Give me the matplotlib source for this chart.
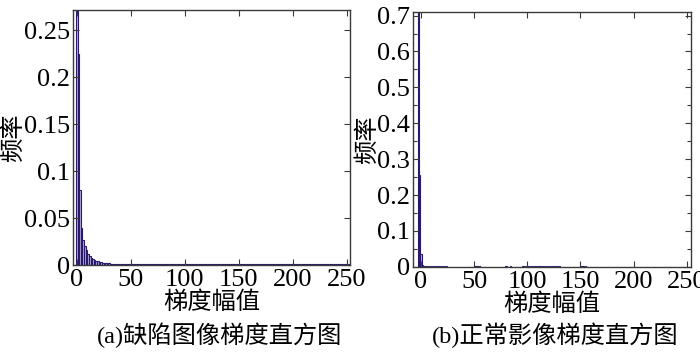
import numpy as np
import matplotlib
matplotlib.use("Agg")
import matplotlib.pyplot as plt
from matplotlib.ticker import MultipleLocator

plt.rcParams['font.family'] = ['Liberation Serif', 'Noto Sans CJK SC']

# ---------------- data ----------------
# (a) defect image gradient histogram: bins spaced 1.5 gradient units
left_bin_step = 1.5
left_head = [0.33, 0.225, 0.08, 0.04, 0.027, 0.02, 0.016, 0.012, 0.0095, 0.0078,
             0.0065, 0.0055, 0.0047, 0.004, 0.0035, 0.003, 0.0026, 0.0023, 0.002, 0.0018,
             0.0017, 0.0016, 0.0015, 0.0015, 0.0014, 0.0014, 0.0013, 0.0013]
left_tail = [0.0013, 0.0012, 0.0013, 0.0012, 0.0012, 0.0013, 0.0012, 0.0011, 0.0012, 0.0012,
             0.0011, 0.0012, 0.0011, 0.0011, 0.0012, 0.0011, 0.0011, 0.0012, 0.0011, 0.0011,
             0.0011, 0.0012, 0.0011, 0.001, 0.0011, 0.0011, 0.001, 0.0011, 0.0011, 0.001,
             0.0011, 0.001, 0.001, 0.0011, 0.001, 0.001, 0.0011, 0.001, 0.001, 0.001,
             0.0011, 0.001, 0.001, 0.001, 0.0011, 0.001, 0.001, 0.001, 0.001, 0.0011,
             0.001, 0.001, 0.001, 0.0011, 0.001, 0.001, 0.0010, 0.001, 0.0011, 0.001,
             0.001, 0.001, 0.001, 0.0011, 0.001, 0.001, 0.001, 0.001, 0.001, 0.0011,
             0.001, 0.001, 0.001, 0.001, 0.0011, 0.001, 0.001, 0.001, 0.001, 0.001,
             0.0011, 0.001, 0.001, 0.001, 0.001, 0.001, 0.0011, 0.001, 0.001, 0.001,
             0.001, 0.001, 0.0011, 0.001, 0.001, 0.001, 0.001, 0.001, 0.001, 0.0011,
             0.001, 0.001, 0.001, 0.001, 0.001, 0.001, 0.0011, 0.001, 0.001, 0.001,
             0.001, 0.001, 0.001, 0.001, 0.0011, 0.001, 0.001, 0.001, 0.001, 0.001,
             0.001, 0.0011, 0.001, 0.001, 0.001, 0.001, 0.001, 0.001, 0.001, 0.0011,
             0.001, 0.001, 0.001, 0.001, 0.001, 0.001, 0.001, 0.001, 0.0011, 0.001,
             0.001, 0.0012]
left_freq = left_head + left_tail

# (b) normal image gradient histogram: non-empty bins only
right_bins = [-2, -1, 0, 1, 2, 3, 4, 6, 8, 10, 12, 14, 16, 18, 20, 22, 24,
              50, 51, 52, 53, 55, 80, 84,
              96, 98, 100, 102, 104, 106, 108, 110, 112, 114, 116, 118, 120, 122, 124, 126, 128, 130,
              150, 151, 152, 153, 155]
right_freq = [0.76, 0.255, 0.035, 0.006, 0.003, 0.002, 0.0018, 0.0018, 0.0016, 0.0018, 0.0017, 0.0018,
              0.0016, 0.0018, 0.0017, 0.0016, 0.0015,
              0.003, 0.0025, 0.0028, 0.0022, 0.0016, 0.0016, 0.0016,
              0.0016, 0.0019, 0.0017, 0.002, 0.0018, 0.0019, 0.0017, 0.002, 0.0018, 0.0019,
              0.0017, 0.002, 0.0018, 0.0019, 0.0017, 0.0018, 0.0016, 0.0015,
              0.003, 0.0028, 0.0032, 0.0025, 0.0016]

x_ticks = [0, 50, 100, 150, 200, 250]
left_yticks = [0, 0.05, 0.1, 0.15, 0.2, 0.25]
left_ylabels = ['0', '0.05', '0.1', '0.15', '0.2', '0.25']
right_yticks = [0, 0.1, 0.2, 0.3, 0.4, 0.5, 0.6, 0.7]
right_ylabels = ['0', '0.1', '0.2', '0.3', '0.4', '0.5', '0.6', '0.7']

xlabel = '梯度幅值'
ylabel = '频率'
captions = ['(a)缺陷图像梯度直方图', '(b)正常影像梯度直方图']

# ---------------- drawing ----------------
fig = plt.figure(figsize=(7.0, 3.52), dpi=100)
ax1 = fig.add_axes([0.104, 0.247, 0.396, 0.725])
ax2 = fig.add_axes([0.590, 0.242, 0.397, 0.724])

bar_fill = '#b4aede'
bar_edge = '#2b1a6a'
spine_col = '#3a3a3a'
fs = 19
cfs = 17.5

left_x = np.arange(len(left_freq)) * left_bin_step
ax1.bar(left_x, left_freq, width=left_bin_step, color=bar_fill, edgecolor=bar_edge, linewidth=0.8)
ax2.bar(right_bins, right_freq, width=1.0, color=bar_fill, edgecolor=bar_edge, linewidth=0.8)

ax1.set_xlim(-3.7, 252.8)
ax1.set_ylim(0, 0.272)
ax1.set_yticks(left_yticks)
ax1.set_yticklabels(left_ylabels)

ax2.set_xlim(-7.5, 254)
ax2.set_ylim(0, 0.71)
ax2.set_yticks(right_yticks)
ax2.set_yticklabels(right_ylabels)
ax2.yaxis.set_minor_locator(MultipleLocator(0.05))

for ax, cap, cx in ((ax1, captions[0], 0.314), (ax2, captions[1], 0.793)):
    ax.set_xticks(x_ticks)
    ax.tick_params(axis='both', which='both', direction='in', top=True, right=True,
                   labelsize=fs, color=spine_col)
    ax.tick_params(axis='y', pad=2)
    ax.tick_params(axis='x', pad=3)
    ax.tick_params(which='major', length=4, width=0.8)
    ax.tick_params(which='minor', length=3, width=0.8)
    for s in ax.spines.values():
        s.set_color(spine_col)
        s.set_linewidth(1.0)
    ax.set_xlabel(xlabel, fontsize=cfs, labelpad=0)
    ax.set_ylabel(ylabel, fontsize=cfs, labelpad=-1)
    fig.text(cx, 0.048, cap, fontsize=cfs, ha='center', va='center')

fig.savefig('out.png', dpi=100)
